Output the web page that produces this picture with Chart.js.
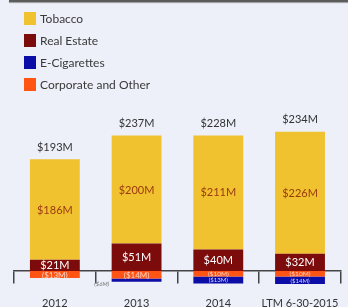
<!DOCTYPE html>
<html>
<head>
<meta charset="utf-8">
<script src="https://cdn.jsdelivr.net/npm/chart.js@4"></script>
<style>
  html, body { margin: 0; padding: 0; width: 348px; height: 307px; overflow: hidden; background: #edeff9; font-family: Lato, sans-serif; }
  #topline { position: absolute; left: 9px; top: 0; width: 340px; height: 2px; background: #5c5c5c; box-shadow: 0 1px 1px #999; }
  #chart { position: absolute; left: 0; top: 0; }
  #legend { position: absolute; left: 24px; top: 12px; margin: 0; padding: 0; list-style: none; }
  #legend li { height: 22px; display: flex; align-items: flex-start; font-size: 12px; color: #3a3a3a; line-height: 13px; }
  #legend span { display: inline-block; width: 12px; height: 13px; margin-right: 4px; }
</style>
</head>
<body>
<div id="topline"></div>
<canvas id="chart" width="352" height="307"></canvas>
<ul id="legend"></ul>
<script>
const years = ["2012", "2013", "2014", "LTM 6-30-2015"];
const tobacco = [186, 200, 211, 226];
const realEstate = [21, 51, 40, 32];
const eCigarettes = [0, -6, -13, -14];
const corporate = [-13, -14, -10, -10];
const totals = [193, 237, 228, 234];

const colors = {
  tobacco: "#f0c22f",
  realEstate: "#7c0b0b",
  eCig: "#0c0ca6",
  corporate: "#ff5414",
};

// legend order as in the picture
const legendItems = [
  ["Tobacco", colors.tobacco],
  ["Real Estate", colors.realEstate],
  ["E-Cigarettes", colors.eCig],
  ["Corporate and Other", colors.corporate],
];
const legendEl = document.getElementById("legend");
legendItems.forEach(([name, color]) => {
  const li = document.createElement("li");
  li.innerHTML = `<span style="background:${color}"></span>${name}`;
  legendEl.appendChild(li);
});

function money(v) {
  return v < 0 ? `($${-v}M)` : `$${v}M`;
}

const labelsPlugin = {
  id: "segmentLabels",
  afterDatasetsDraw(chart) {
    const ctx = chart.ctx;
    const zeroY = chart.scales.y.getPixelForValue(0);
    ctx.save();
    ctx.textAlign = "center";
    ctx.textBaseline = "middle";
    chart.data.datasets.forEach((ds, di) => {
      const meta = chart.getDatasetMeta(di);
      meta.data.forEach((bar, i) => {
        const v = ds.data[i];
        if (!v) return;
        const h = Math.abs(bar.base - bar.y);
        const cy = (bar.y + bar.base) / 2;
        if (h < 4) {
          // too thin, put the label beside the bar
          ctx.font = "italic 6px Lato";
          ctx.fillStyle = "#777";
          ctx.fillText(money(v), bar.x - bar.width / 2 - 10, zeroY + 13);
          return;
        }
        let size = 11;
        if (ds.key === "corporate") size = h >= 7 ? 8 : 6.5;
        if (ds.key === "eCig") size = 6;
        ctx.font = size + "px Lato";
        ctx.fillStyle = ds.labelColor;
        ctx.fillText(money(v), bar.x, cy + 0.5);
      });
    });
    // totals above the stacks
    ctx.font = "11px Lato";
    ctx.fillStyle = "#333";
    totals.forEach((t, i) => {
      let top = zeroY, x = 0;
      chart.data.datasets.forEach((ds, di) => {
        const bar = chart.getDatasetMeta(di).data[i];
        x = bar.x;
        if (ds.data[i] > 0) top = Math.min(top, bar.y);
      });
      ctx.fillText(money(t), x, top - 12);
    });
    ctx.restore();
  },
};

new Chart(document.getElementById("chart"), {
  type: "bar",
  data: {
    labels: years,
    datasets: [
      { key: "realEstate", label: "Real Estate", data: realEstate, backgroundColor: colors.realEstate, labelColor: "#fff" },
      { key: "corporate", label: "Corporate and Other", data: corporate, backgroundColor: colors.corporate, labelColor: "#ffd6c8" },
      { key: "tobacco", label: "Tobacco", data: tobacco, backgroundColor: colors.tobacco, labelColor: "#9a3a10" },
      { key: "eCig", label: "E-Cigarettes", data: eCigarettes, backgroundColor: colors.eCig, labelColor: "#d8dcff" },
    ],
  },
  options: {
    responsive: false,
    animation: false,
    layout: { padding: { left: 14, right: 0, top: 0, bottom: 0 } },
    datasets: { bar: { categoryPercentage: 1, barPercentage: 0.61 } },
    plugins: { legend: { display: false }, tooltip: { enabled: false } },
    scales: {
      x: {
        stacked: true,
        position: { y: 0 },
        border: { display: true, color: "#444", width: 1.5 },
        grid: { drawOnChartArea: false, drawTicks: true, tickLength: 12, color: "#444", lineWidth: 1.5 },
        ticks: { color: "#333", font: { family: "Lato", size: 11 }, padding: 13.5, maxRotation: 0 },
      },
      y: {
        stacked: true,
        display: false,
        min: -66.7,
        max: 502,
      },
    },
  },
  plugins: [labelsPlugin],
});
</script>
</body>
</html>
